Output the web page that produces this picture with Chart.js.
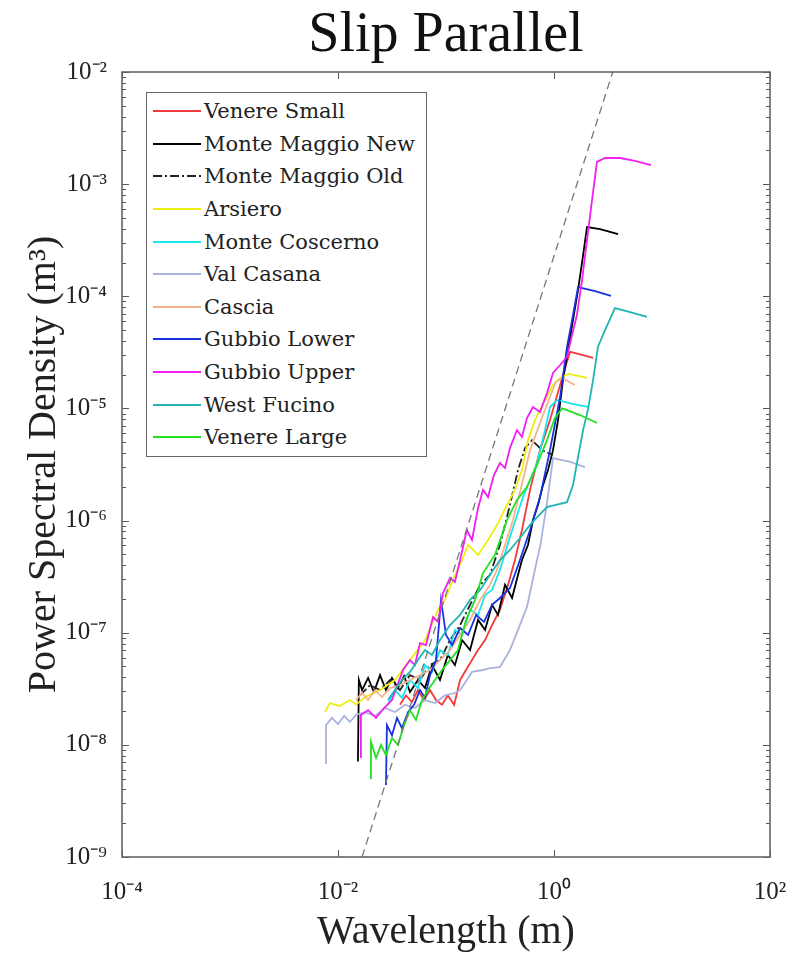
<!DOCTYPE html>
<html>
<head>
<meta charset="utf-8">
<script src="https://cdn.jsdelivr.net/npm/chart.js@4"></script>
<style>
  html, body { margin: 0; padding: 0; background: #fff; }
  #wrap { position: relative; width: 793px; height: 955px; }
  #legend { position: absolute; left: 146px; top: 92px; width: 281px; height: 365px;
            border: 1px solid #666; background: #fff; box-sizing: border-box;
            font-family: "DejaVu Serif", serif; font-size: 21px; color: #222; padding-top: 2px; }
  .row { height: 32.6px; display: flex; align-items: center; white-space: nowrap; }
  .row svg { margin-left: 6px; margin-right: 3px; flex: none; }
</style>
</head>
<body>
<div id="wrap">
  <canvas id="c" width="793" height="955"></canvas>
  <div id="legend"></div>
</div>
<script>
// ---------------- data ----------------
const seriesNames = ["Venere Small","Monte Maggio New","Monte Maggio Old","Arsiero","Monte Coscerno",
  "Val Casana","Cascia","Gubbio Lower","Gubbio Upper","West Fucino","Venere Large"];

const venereSmallX = [0.0375,0.0426,0.0484,0.055,0.0625,0.0711,0.0808,0.0919,0.104,0.119,0.135,0.153,0.174,0.198,0.230,0.267,0.316,0.375,0.435,0.505,0.600,0.742,0.918,1.14,1.29,1.41,1.82,2.30];
const venereSmallY = [2.28e-8,2.76e-8,2.41e-8,3.08e-8,2.51e-8,3.08e-8,2.51e-8,2.28e-8,2.76e-8,2.28e-8,3.79e-8,4.65e-8,5.7e-8,7.0e-8,8.6e-8,1.17e-7,1.6e-7,2.67e-7,4.45e-7,8.25e-7,1.88e-6,4.25e-6,7.88e-6,1.62e-5,2.44e-5,3.19e-5,3.0e-5,2.82e-5];

const monteMaggioNewX = [0.0153,0.0156,0.0167,0.019,0.0215,0.0245,0.0278,0.0316,0.0359,0.0409,0.0464,0.055,0.0639,0.0742,0.088,0.104,0.121,0.141,0.167,0.198,0.230,0.267,0.303,0.352,0.409,0.464,0.505,0.574,0.639,0.711,0.791,0.880,0.979,1.09,1.21,1.35,1.50,1.67,1.86,2.02,2.67,3.92];
const monteMaggioNewY = [7.1e-9,3.79e-8,3.08e-8,3.95e-8,2.96e-8,4.19e-8,3.08e-8,3.95e-8,3.21e-8,4.11e-8,2.96e-8,3.79e-8,3.21e-8,5.15e-8,3.79e-8,6.33e-8,5.15e-8,8.6e-8,7.0e-8,1.3e-7,1.06e-7,1.77e-7,1.44e-7,2.67e-7,2.04e-7,3.27e-7,4.45e-7,6.06e-7,1.01e-6,1.38e-6,2.07e-6,2.82e-6,4.25e-6,7.88e-6,1.79e-5,3.32e-5,6.14e-5,1.14e-4,2.33e-4,4.14e-4,3.98e-4,3.59e-4];

const monteMaggioOldX = [0.016,0.0198,0.0245,0.0303,0.0375,0.0464,0.0574,0.0711,0.088,0.109,0.135,0.167,0.207,0.255,0.316,0.391,0.464,0.539,0.626,0.774,0.979];
const monteMaggioOldY = [2.76e-8,3.41e-8,3.08e-8,3.79e-8,3.08e-8,4.19e-8,3.79e-8,5.15e-8,5.7e-8,8.6e-8,1.17e-7,1.77e-7,2.67e-7,3.27e-7,6.06e-7,1.38e-6,2.82e-6,4.43e-6,5.22e-6,4.25e-6,3.84e-6];

const arsieroX = [0.00758,0.00843,0.0104,0.0129,0.0147,0.0178,0.0245,0.0337,0.0464,0.0639,0.0843,0.0979,0.121,0.141,0.160,0.198,0.245,0.297,0.367,0.435,0.505,0.574,0.667,0.826,0.979,1.14,1.35,1.67,2.02];
const arsieroY = [1.96e-8,2.36e-8,2.22e-8,2.51e-8,2.28e-8,2.67e-8,3.08e-8,3.79e-8,5.7e-8,8.6e-8,1.6e-7,1.96e-7,3.27e-7,4.45e-7,6.06e-7,4.94e-7,6.72e-7,9.14e-7,1.38e-6,1.88e-6,2.82e-6,5.22e-6,7.88e-6,1.19e-5,1.62e-5,1.87e-5,2.03e-5,1.95e-5,1.87e-5];

const monteCoscernoX = [0.029,0.0337,0.0391,0.0464,0.055,0.0639,0.0742,0.088,0.104,0.121,0.141,0.167,0.198,0.230,0.267,0.316,0.391,0.516,0.696,0.826,0.918,1.07,1.41,2.06];
const monteCoscernoY = [2.28e-8,3.08e-8,2.63e-8,3.79e-8,3.21e-8,5.15e-8,4.47e-8,7.0e-8,6.33e-8,1.06e-7,9.54e-8,1.6e-7,1.44e-7,2.17e-7,2.41e-7,3.63e-7,7.14e-7,1.62e-6,3.26e-6,6.42e-6,1.03e-5,1.19e-5,1.11e-5,1.03e-5];

const valCasanaX = [0.00758,0.00774,0.0088,0.01,0.0114,0.0129,0.0147,0.0178,0.022,0.0272,0.0337,0.0417,0.0516,0.0639,0.0791,0.0979,0.121,0.135,0.156,0.174,0.220,0.255,0.316,0.391,0.464,0.562,0.696,0.742,0.861,0.979,1.41,1.94];
const valCasanaY = [6.88e-9,1.5e-8,1.74e-8,1.53e-8,1.81e-8,1.6e-8,1.85e-8,1.96e-8,1.81e-8,2.13e-8,1.96e-8,2.28e-8,2.13e-8,2.51e-8,2.36e-8,2.76e-8,2.9e-8,3.08e-8,3.79e-8,4.47e-8,4.65e-8,4.84e-8,4.94e-8,7.0e-8,1.06e-7,1.7e-7,4.45e-7,5.81e-7,1.43e-6,3.61e-6,3.33e-6,3.0e-6];

const casciaX = [0.0147,0.0167,0.019,0.022,0.0255,0.0303,0.0375,0.0464,0.0574,0.0711,0.088,0.109,0.135,0.167,0.207,0.255,0.297,0.352,0.417,0.516,0.600,0.742,0.918,1.04,1.19,1.56];
const casciaY = [2.51e-8,2.9e-8,2.51e-8,3.08e-8,2.67e-8,3.21e-8,3.41e-8,3.79e-8,4.19e-8,4.65e-8,5.7e-8,7.0e-8,9.54e-8,1.3e-7,1.96e-7,2.67e-7,3.63e-7,6.06e-7,1.01e-6,2.3e-6,4.25e-6,7.41e-6,1.27e-5,1.72e-5,1.87e-5,1.62e-5];

const gubbioLowerX = [0.0278,0.0284,0.0316,0.0352,0.0391,0.0445,0.0506,0.0574,0.0639,0.0711,0.0808,0.0899,0.1,0.114,0.135,0.160,0.190,0.225,0.267,0.316,0.391,0.484,0.600,0.742,0.918,1.14,1.32,1.47,1.67,2.40,3.37];
const gubbioLowerY = [4.38e-9,1.5e-8,1.22e-8,1.74e-8,1.41e-8,1.96e-8,2.28e-8,3.08e-8,2.63e-8,4.19e-8,5.7e-8,1.96e-7,9.54e-8,7.77e-8,1.1e-7,9.54e-8,1.44e-7,1.25e-7,1.77e-7,2.04e-7,2.5e-7,4.45e-7,8.25e-7,1.62e-6,4.25e-6,1.27e-5,3.53e-5,6.14e-5,1.21e-4,1.11e-4,1.01e-4];

const gubbioUpperX = [0.016,0.0163,0.019,0.0225,0.0267,0.0316,0.04,0.0464,0.0516,0.0574,0.0653,0.0758,0.0843,0.0938,0.109,0.121,0.135,0.156,0.174,0.198,0.220,0.245,0.278,0.316,0.352,0.391,0.454,0.505,0.562,0.639,0.742,0.861,0.979,1.14,1.32,1.47,1.63,1.82,2.02,2.25,2.50,2.97,4.08,5.62,7.91];
const gubbioUpperY = [7.79e-9,1.85e-8,2.04e-8,1.74e-8,2.13e-8,2.51e-8,4.65e-8,5.7e-8,5.15e-8,8.09e-8,7.77e-8,1.38e-7,1.25e-7,2.26e-7,3.08e-7,2.84e-7,4.45e-7,8.25e-7,6.72e-7,1.29e-6,1.88e-6,1.62e-6,2.55e-6,3.26e-6,2.94e-6,4.43e-6,6.42e-6,5.56e-6,8.21e-6,1.03e-5,9.29e-6,1.37e-5,2.07e-5,2.44e-5,2.88e-5,4.52e-5,6.81e-5,1.40e-4,3.17e-4,7.21e-4,1.58e-3,1.71e-3,1.71e-3,1.61e-3,1.48e-3];

const westFucinoX = [0.029,0.0337,0.0391,0.0464,0.055,0.0639,0.0742,0.088,0.109,0.135,0.167,0.207,0.255,0.316,0.391,0.484,0.600,0.696,0.861,1.32,1.50,1.67,1.86,2.06,2.30,2.55,2.97,3.67,5.06,7.26];
const westFucinoY = [2.51e-8,3.08e-8,3.79e-8,4.47e-8,5.7e-8,7.0e-8,6.33e-8,8.6e-8,1.17e-7,1.44e-7,1.96e-7,2.41e-7,3.27e-7,4.45e-7,5.47e-7,6.99e-7,9.14e-7,1.07e-6,1.32e-6,1.46e-6,2.07e-6,3.69e-6,6.42e-6,9.67e-6,1.79e-5,3.53e-5,5.0e-5,7.86e-5,7.24e-5,6.54e-5];

const venereLargeX = [0.0198,0.0202,0.0225,0.025,0.0278,0.0316,0.0359,0.0409,0.0464,0.0527,0.06,0.0681,0.0791,0.0919,0.109,0.129,0.153,0.186,0.220,0.284,0.367,0.454,0.562,0.696,0.861,1.02,1.19,1.74,2.50];
const venereLargeY = [5.06e-9,1.06e-8,7.63e-9,1.0e-8,8.11e-9,1.15e-8,1.0e-8,1.5e-8,2.04e-8,1.67e-8,2.51e-8,3.08e-8,3.79e-8,4.65e-8,5.7e-8,7.0e-8,1.3e-7,1.96e-7,3.4e-7,4.94e-7,1.01e-6,1.53e-6,1.99e-6,3.13e-6,5.22e-6,8.21e-6,1.0e-5,8.73e-6,7.41e-6];

// reference slope line (dashed)
const referenceX = [0.0167, 3.5];
const referenceY = [1e-9, 1e-2];

// tick labels
const xTickValues = [1e-4, 1e-2, 1, 1e2];
const yTickValues = [1e-9, 1e-8, 1e-7, 1e-6, 1e-5, 1e-4, 1e-3, 1e-2];

// ---------------- styling ----------------
const seriesX = [venereSmallX, monteMaggioNewX, monteMaggioOldX, arsieroX, monteCoscernoX, valCasanaX, casciaX, gubbioLowerX, gubbioUpperX, westFucinoX, venereLargeX];
const seriesY = [venereSmallY, monteMaggioNewY, monteMaggioOldY, arsieroY, monteCoscernoY, valCasanaY, casciaY, gubbioLowerY, gubbioUpperY, westFucinoY, venereLargeY];
const seriesColors = ["#f23a3a","#000000","#222222","#eeee10","#18e4ee","#a9b3de","#f3b48a","#1832e0","#f020ee","#22b4b4","#22e022"];
const seriesDash = [[],[],[9,3,2,3],[],[],[],[],[],[],[],[]];

const sup = {"-":"\u207B","0":"\u2070","1":"\u00B9","2":"\u00B2","3":"\u00B3","4":"\u2074","5":"\u2075","6":"\u2076","7":"\u2077","8":"\u2078","9":"\u2079"};
function powLabel(v) {
  const e = Math.round(Math.log10(v));
  return "10" + String(e).split("").map(c => sup[c]).join("");
}

const datasets = seriesNames.map((name, i) => ({
  label: name,
  data: seriesX[i].map((x, j) => ({x: x, y: seriesY[i][j]})),
  borderColor: seriesColors[i],
  backgroundColor: seriesColors[i],
  borderWidth: 1.8,
  borderDash: seriesDash[i],
  pointRadius: 0,
  tension: 0,
  fill: false,
  order: 20 - i
}));
datasets.push({
  label: "reference",
  data: referenceX.map((x, j) => ({x: x, y: referenceY[j]})),
  borderColor: "#777777",
  borderWidth: 1.3,
  borderDash: [8, 5],
  pointRadius: 0,
  fill: false,
  order: 1
});

const frameTicks = {
  id: "frameTicks",
  afterDatasetsDraw(chart) {
    const {ctx, chartArea: a, scales: {x, y}} = chart;
    ctx.save();
    ctx.strokeStyle = "#555";
    ctx.lineWidth = 1;
    ctx.beginPath();
    xTickValues.forEach(v => {
      const p = Math.round(x.getPixelForValue(v)) + 0.5;
      ctx.moveTo(p, a.bottom); ctx.lineTo(p, a.bottom - 7);
      ctx.moveTo(p, a.top); ctx.lineTo(p, a.top + 7);
    });
    yTickValues.forEach((v, i) => {
      const p = Math.round(y.getPixelForValue(v)) + 0.5;
      ctx.moveTo(a.left, p); ctx.lineTo(a.left + 7, p);
      ctx.moveTo(a.right, p); ctx.lineTo(a.right - 7, p);
      if (i < yTickValues.length - 1) {
        for (let k = 2; k < 10; k++) {
          const pm = Math.round(y.getPixelForValue(v * k)) + 0.5;
          ctx.moveTo(a.left, pm); ctx.lineTo(a.left + 4, pm);
          ctx.moveTo(a.right, pm); ctx.lineTo(a.right - 4, pm);
        }
      }
    });
    ctx.stroke();
    ctx.lineWidth = 1.6;
    ctx.strokeStyle = "#666";
    ctx.strokeRect(a.left, a.top, a.right - a.left, a.bottom - a.top);
    ctx.restore();
  }
};

new Chart(document.getElementById("c"), {
  type: "line",
  data: {datasets: datasets},
  plugins: [frameTicks],
  options: {
    responsive: false,
    devicePixelRatio: 1,
    animation: false,
    layout: {padding: {left: 0, right: 23, top: 0, bottom: 0}},
    plugins: {
      legend: {display: false},
      tooltip: {enabled: false},
      title: {
        display: true,
        fullSize: false,
        text: "Slip Parallel",
        color: "#111",
        font: {family: "Liberation Serif", size: 56, weight: "normal", lineHeight: 1.2},
        padding: {top: 3, bottom: 1.8}
      }
    },
    scales: {
      x: {
        type: "logarithmic",
        min: 1e-4, max: 1e2,
        afterBuildTicks: s => { s.ticks = xTickValues.map(v => ({value: v})); },
        afterFit: s => { s.height = 98; s.paddingLeft = 0; s.paddingRight = 0; },
        grid: {display: false},
        border: {display: false},
        ticks: {callback: v => powLabel(v), autoSkip: false, maxRotation: 0, minRotation: 0, padding: 12,
                color: "#222", font: {family: "Liberation Serif", size: 25}},
        title: {display: true, text: "Wavelength (m)", color: "#222",
                font: {family: "Liberation Serif", size: 40, lineHeight: 1}, padding: {top: 0, bottom: 3}}
      },
      y: {
        type: "logarithmic",
        min: 1e-9, max: 1e-2,
        afterBuildTicks: s => { s.ticks = yTickValues.map(v => ({value: v})); },
        afterFit: s => { s.width = 122; s.paddingTop = 0; s.paddingBottom = 0; },
        grid: {display: false},
        border: {display: false},
        ticks: {callback: v => powLabel(v), autoSkip: false, padding: 7,
                color: "#222", font: {family: "Liberation Serif", size: 25}},
        title: {display: true, text: "Power Spectral Density (m\u00B3)", color: "#222",
                font: {family: "Liberation Serif", size: 40, lineHeight: 1}, padding: {top: 24, bottom: 0}}
      }
    }
  }
});

// legend (HTML, built from the series names and styles)
const legendEl = document.getElementById("legend");
seriesNames.forEach((name, i) => {
  const row = document.createElement("div");
  row.className = "row";
  const dash = seriesDash[i].length ? ' stroke-dasharray="' + seriesDash[i].join(",") + '"' : "";
  row.innerHTML = '<svg width="48" height="6"><line x1="0" y1="3" x2="48" y2="3" stroke="' + seriesColors[i] +
    '" stroke-width="2"' + dash + '/></svg><span>' + name + '</span>';
  legendEl.appendChild(row);
});
</script>
</body>
</html>
